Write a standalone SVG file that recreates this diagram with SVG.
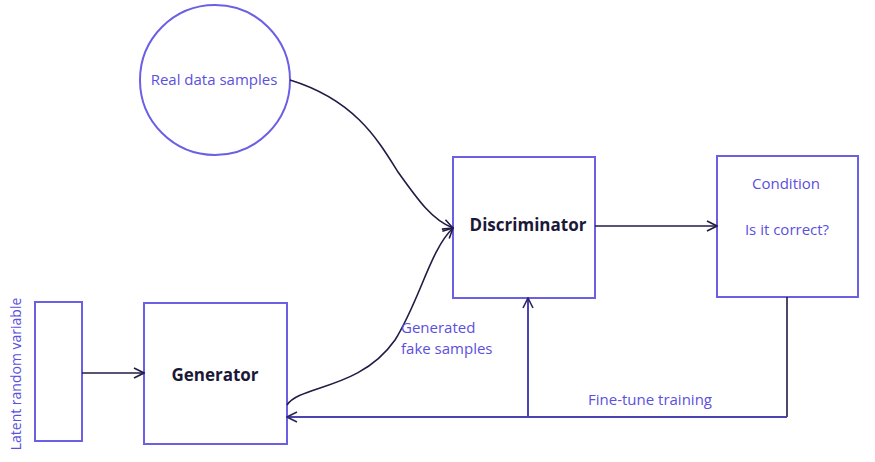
<svg xmlns="http://www.w3.org/2000/svg" width="875" height="462" viewBox="0 0 875 462">
<defs>
<style>
.node{fill:#fff;stroke:#6b5fe6;stroke-width:2}
.lbl{font-family:"Open Sans","Noto Sans",sans-serif;font-size:15px;fill:#5b50de}
.vlbl{font-family:"Open Sans","Noto Sans",sans-serif;font-size:14px;fill:#5b50de}
.title{font-family:"Open Sans","Noto Sans",sans-serif;font-size:17px;font-weight:bold;fill:#1b1838}
.edge{fill:none;stroke:#1f1c45;stroke-width:1.6}
.fb{fill:none;stroke:#4a43b0;stroke-width:2}
</style>
<marker id="ah" viewBox="0 0 12 12" refX="11" refY="6" markerWidth="12" markerHeight="12" markerUnits="userSpaceOnUse" orient="auto">
<path d="M1,1 L11,6 L1,11" fill="none" stroke="#1f1c45" stroke-width="1.6"/>
</marker>
<marker id="ahb" viewBox="0 0 12 12" refX="11" refY="6" markerWidth="12" markerHeight="12" markerUnits="userSpaceOnUse" orient="auto">
<path d="M1,1 L11,6 L1,11" fill="none" stroke="#2a2660" stroke-width="1.6"/>
</marker>
</defs>
<rect width="875" height="462" fill="#fff"/>
<g id="real">
<circle class="node" cx="215" cy="80" r="75"/>
<text class="lbl" x="214" y="85" text-anchor="middle">Real data samples</text>
</g>
<g id="latent">
<rect class="node" x="35" y="302" width="47" height="139"/>
<text class="vlbl" transform="translate(21,374) rotate(-90)" text-anchor="middle">Latent random variable</text>
</g>
<g id="generator">
<rect class="node" x="144" y="303" width="143" height="141"/>
<text class="title" x="215" y="381" text-anchor="middle">Generator</text>
</g>
<g id="discriminator">
<rect class="node" x="453" y="157" width="142" height="141"/>
<text class="title" x="528" y="231" text-anchor="middle">Discriminator</text>
</g>
<g id="condition">
<rect class="node" x="717" y="156" width="141" height="141"/>
<text class="lbl" x="786" y="189" text-anchor="middle">Condition</text>
<text class="lbl" x="787" y="235" text-anchor="middle">Is it correct?</text>
</g>
<g id="connectors">
<path class="edge" d="M290,80 C355,100 378,140 398,172 C418,200 432,220 453,228" marker-end="url(#ah)"/>
<path class="edge" d="M287,405 C300,385 360,390 395,340 C420,300 430,250 453,228" marker-end="url(#ah)"/>
<path class="edge" d="M82,373 L144,373" marker-end="url(#ah)"/>
<path class="edge" d="M595,226 L717,226" marker-end="url(#ah)"/>
<path class="edge" d="M787,297 L787,417"/>
<path class="fb" d="M787,417 L287,417" marker-end="url(#ahb)"/>
<path class="fb" d="M528,417 L528,298" marker-end="url(#ahb)"/>
<text class="lbl" x="401" y="333">Generated</text>
<text class="lbl" x="401" y="354">fake samples</text>
<text class="lbl" x="588" y="405">Fine-tune training</text>
</g>
</svg>
